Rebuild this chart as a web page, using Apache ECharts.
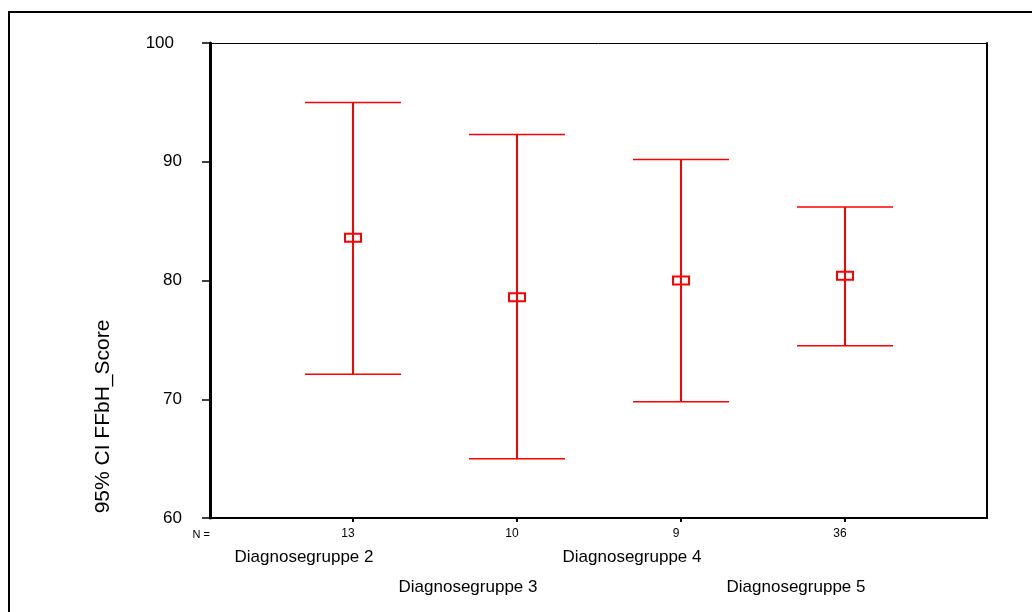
<!DOCTYPE html>
<html lang="de" style="height: 100%">

<head>
  <meta charset="utf-8">
</head>

<body style="height: 100%; margin: 0; background-color: #fff">
  <div id="container" style="width: 1032px; height: 612px"></div>

  <script type="text/javascript" src="https://cdn.jsdelivr.net/npm/echarts@6.0.0/dist/echarts.min.js"></script>

  <script type="text/javascript">
    // ----- data -----
    var groups = ['Diagnosegruppe 2', 'Diagnosegruppe 3', 'Diagnosegruppe 4', 'Diagnosegruppe 5'];
    var counts = ['13', '10', '9', '36'];
    var upper = [95.0, 92.3, 90.2, 86.2];
    var means = [83.6, 78.6, 80.0, 80.4];
    var lower = [72.1, 65.0, 69.8, 74.5];
    var yMin = 60, yMax = 100, yStep = 10;

    var font = 'Liberation Sans, Arial, sans-serif';
    var red = '#ff0000';

    var dom = document.getElementById('container');
    var myChart = echarts.init(dom, null, { renderer: 'canvas' });

    //-----function-------
    function renderBar(params, api) {
      var i = api.value(0);
      var top = api.coord([i, api.value(1)]);
      var mid = api.coord([i, api.value(2)]);
      var bot = api.coord([i, api.value(3)]);
      var cap = 48;
      return {
        type: 'group',
        children: [
          { type: 'line', shape: { x1: top[0], y1: top[1], x2: bot[0], y2: bot[1] }, style: { stroke: red, lineWidth: 2 } },
          { type: 'line', shape: { x1: top[0] - cap, y1: top[1], x2: top[0] + cap, y2: top[1] }, style: { stroke: red, lineWidth: 1.5 } },
          { type: 'line', shape: { x1: bot[0] - cap, y1: bot[1], x2: bot[0] + cap, y2: bot[1] }, style: { stroke: red, lineWidth: 1.5 } },
          { type: 'rect', shape: { x: mid[0] - 8, y: mid[1] - 4, width: 16, height: 8 }, style: { fill: 'none', stroke: red, lineWidth: 2 } }
        ]
      };
    }

    var barData = counts.map(function (c, i) {
      return [i, upper[i], means[i], lower[i]];
    });

    var option = {
      animation: false,
      textStyle: { fontFamily: font },
      graphic: [{
        type: 'rect',
        shape: { x: 9, y: 12, width: 1100, height: 700 },
        style: { fill: 'none', stroke: '#000', lineWidth: 2 }
      }],
      grid: [
        // frame + y axis
        { left: 210, right: 45, top: 43, bottom: 94 },
        // error bars
        { left: 271, right: 105, top: 43, bottom: 94 },
        // group names (shifted left)
        { left: 222, right: 154, top: 43, bottom: 94 }
      ],
      xAxis: [
        {
          gridIndex: 0, type: 'value', min: 0, max: 1, position: 'bottom',
          axisLine: { onZero: false, lineStyle: { color: '#000', width: 2 } },
          axisTick: { show: false }, axisLabel: { show: false }, splitLine: { show: false },
          name: 'N =', nameLocation: 'start', nameGap: 0,
          nameTextStyle: { fontSize: 11, color: '#000', align: 'right', verticalAlign: 'top', padding: [11, 0, 0, 0] }
        },
        {
          gridIndex: 0, type: 'value', min: 0, max: 1, position: 'top',
          axisLine: { onZero: false, lineStyle: { color: '#000', width: 1 } },
          axisTick: { show: false }, axisLabel: { show: false }, splitLine: { show: false }
        },
        {
          gridIndex: 1, type: 'category', data: counts, position: 'bottom',
          axisLine: { show: false },
          axisTick: { show: true, alignWithLabel: true, length: 4, lineStyle: { color: '#000', width: 2 } },
          axisLabel: { interval: 0, fontSize: 12, color: '#000', margin: 10, padding: [0, 10, 0, 0] }
        },
        {
          gridIndex: 2, type: 'category', data: groups, position: 'bottom',
          axisLine: { show: false }, axisTick: { show: false },
          axisLabel: {
            interval: 0, fontSize: 17, color: '#000', margin: 31,
            formatter: function (v, idx) { return idx % 2 === 0 ? v : ''; }
          }
        },
        {
          gridIndex: 2, type: 'category', data: groups, position: 'bottom',
          axisLine: { show: false }, axisTick: { show: false },
          axisLabel: {
            interval: 0, fontSize: 17, color: '#000', margin: 61,
            formatter: function (v, idx) { return idx % 2 === 1 ? v : ''; }
          }
        }
      ],
      yAxis: [
        {
          gridIndex: 0, type: 'value', min: yMin, max: yMax, interval: yStep, position: 'left',
          axisLine: { show: true, onZero: false, lineStyle: { color: '#000', width: 3 } },
          axisTick: { show: true, length: 8, lineStyle: { color: '#000', width: 1.5 } },
          axisLabel: {
            fontSize: 17, color: '#000', margin: 28,
            formatter: function (v) { return v === 100 ? '{p|' + v + '}' : v; },
            rich: { p: { fontSize: 17, color: '#000', padding: [0, 8, 0, 0] } }
          },
          splitLine: { show: false },
          name: '95% CI FFbH_Score', nameLocation: 'middle', nameRotate: 90, nameGap: 96,
          nameTextStyle: { fontSize: 21, color: '#000', padding: [0, 272, 0, 0] }
        },
        {
          gridIndex: 0, type: 'value', min: yMin, max: yMax, position: 'right',
          axisLine: { show: true, onZero: false, lineStyle: { color: '#000', width: 2 } },
          axisTick: { show: false }, axisLabel: { show: false }, splitLine: { show: false }
        },
        { gridIndex: 1, type: 'value', min: yMin, max: yMax, show: false },
        { gridIndex: 2, type: 'value', min: yMin, max: yMax, show: false }
      ],
      series: [{
        type: 'custom',
        xAxisIndex: 2,
        yAxisIndex: 2,
        renderItem: renderBar,
        encode: { x: 0, y: [1, 2, 3] },
        clip: false,
        data: barData
      }]
    };

    myChart.setOption(option);
    window.addEventListener('resize', myChart.resize);
  </script>
</body>

</html>
